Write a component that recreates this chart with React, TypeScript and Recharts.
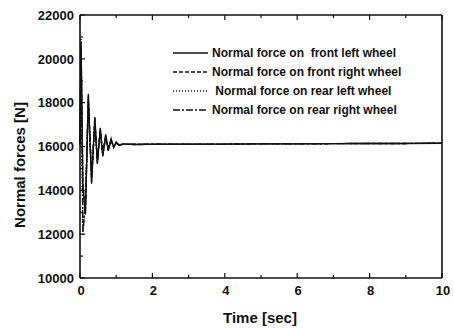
import React from 'react';
import { LineChart, Line, XAxis, YAxis } from 'recharts';

// time samples [sec] (denser during the transient)
const time = [0, 0.03, 0.08, 0.15, 0.23, 0.32, 0.41, 0.48, 0.56, 0.63, 0.71, 0.78, 0.86, 0.93, 1.0, 1.08, 1.2, 1.5, 2, 3, 4, 5, 6, 7, 8, 9, 10];

// normal forces [N]
const frontLeft = [16100, 20500, 14200, 12900, 18400, 14300, 17350, 15200, 16850, 15550, 16550, 15800, 16350, 15950, 16200, 16050, 16120, 16090, 16100, 16110, 16110, 16120, 16120, 16130, 16140, 16140, 16150];
const frontRight = [16100, 20400, 14300, 13000, 18300, 14400, 17300, 15250, 16800, 15600, 16500, 15850, 16300, 15980, 16180, 16060, 16110, 16090, 16100, 16110, 16110, 16120, 16120, 16130, 16140, 16140, 16150];
const rearLeft = [16100, 20900, 12000, 13300, 18100, 14600, 17100, 15350, 16700, 15650, 16450, 15900, 16280, 16000, 16160, 16070, 16110, 16100, 16100, 16110, 16110, 16120, 16120, 16130, 16140, 16140, 16150];
const rearRight = [16100, 20800, 12100, 13400, 18000, 14700, 17050, 15400, 16650, 15700, 16400, 15920, 16250, 16020, 16150, 16080, 16110, 16100, 16100, 16110, 16110, 16120, 16120, 16130, 16140, 16140, 16150];

const xTicks = [0, 1, 2, 3, 4, 5, 6, 7, 8, 9, 10];
const yTicks = [10000, 11000, 12000, 13000, 14000, 15000, 16000, 17000, 18000, 19000, 20000, 21000, 22000];

const seriesNames = [
  'Normal force on  front left wheel',
  'Normal force on front right wheel',
  ' Normal force on rear left wheel',
  'Normal force on rear right wheel',
];
const seriesKeys = ['fl', 'fr', 'rl', 'rr'];
const dashes = ['', '4 2', '1 2', '7 2 2 2'];

const data = time.map((t, i) => ({
  t,
  fl: frontLeft[i],
  fr: frontRight[i],
  rl: rearLeft[i],
  rr: rearRight[i],
}));

const FONT = '"Liberation Sans", Arial, sans-serif';
const INK = '#111';

function BottomTick(props: any) {
  const { x, y, payload } = props;
  const major = payload.value % 2 === 0;
  return (
    <g>
      <line x1={x} x2={x} y1={y} y2={y - (major ? 5 : 3)} stroke={INK} strokeWidth={1.2} />
      {major && (
        <text x={x + 1} y={y + 17} textAnchor="middle" fontFamily={FONT} fontSize={13} fontWeight="bold" fill={INK}>
          {payload.value}
        </text>
      )}
    </g>
  );
}

function TopTick(props: any) {
  const { x, y, payload } = props;
  const major = payload.value % 2 === 0;
  return <line x1={x} x2={x} y1={y} y2={y + (major ? 5 : 3)} stroke={INK} strokeWidth={1.2} />;
}

function LeftTick(props: any) {
  const { x, y, payload } = props;
  const major = payload.value % 2000 === 0;
  return (
    <g>
      <line x1={x} x2={x + (major ? 5 : 3)} y1={y} y2={y} stroke={INK} strokeWidth={1.2} />
      {major && (
        <text x={x - 6} y={y} dy="0.36em" textAnchor="end" fontFamily={FONT} fontSize={13} fontWeight="bold" fill={INK}>
          {payload.value}
        </text>
      )}
    </g>
  );
}

function RightTick(props: any) {
  const { x, y, payload } = props;
  const major = payload.value % 2000 === 0;
  return <line x1={x} x2={x - (major ? 5 : 3)} y1={y} y2={y} stroke={INK} strokeWidth={1.2} />;
}

export default function App() {
  return (
    <div style={{ position: 'absolute', left: 0, top: 0, width: 454, height: 328, background: '#fff' }}>
      <LineChart width={454} height={328} data={data} margin={{ top: 0, right: 0, bottom: 0, left: 0 }}>
        <XAxis
          xAxisId="b"
          dataKey="t"
          type="number"
          domain={[0, 10]}
          ticks={xTicks}
          interval={0}
          height={50}
          tickSize={0}
          tickMargin={0}
          tick={<BottomTick />}
          axisLine={{ stroke: INK, strokeWidth: 1.6 }}
          tickLine={false}
        />
        <XAxis
          xAxisId="t"
          orientation="top"
          dataKey="t"
          type="number"
          domain={[0, 10]}
          ticks={xTicks}
          interval={0}
          height={15}
          tickSize={0}
          tickMargin={0}
          tick={<TopTick />}
          axisLine={{ stroke: INK, strokeWidth: 1.6 }}
          tickLine={false}
        />
        <YAxis
          yAxisId="l"
          type="number"
          domain={[10000, 22000]}
          ticks={yTicks}
          interval={0}
          width={80}
          tickSize={0}
          tickMargin={0}
          tick={<LeftTick />}
          axisLine={{ stroke: INK, strokeWidth: 1.6 }}
          tickLine={false}
        />
        <YAxis
          yAxisId="r"
          orientation="right"
          type="number"
          domain={[10000, 22000]}
          ticks={yTicks}
          interval={0}
          width={12}
          tickSize={0}
          tickMargin={0}
          tick={<RightTick />}
          axisLine={{ stroke: INK, strokeWidth: 1.6 }}
          tickLine={false}
        />
        {seriesKeys.map((k, i) => (
          <Line
            key={k}
            xAxisId="b"
            yAxisId="l"
            dataKey={k}
            name={seriesNames[i]}
            type="linear"
            stroke={INK}
            strokeWidth={1.4}
            strokeDasharray={dashes[i] || undefined}
            dot={false}
            isAnimationActive={false}
          />
        ))}
        <g>
          {seriesNames.map((name, i) => {
            const cy = 53 + i * 19;
            return (
              <g key={name}>
                <line x1={173} x2={208} y1={cy} y2={cy} stroke={INK} strokeWidth={1.6} strokeDasharray={dashes[i] || undefined} />
                <text x={212} y={cy} dy="0.36em" fontFamily={FONT} fontSize={12} fontWeight="bold" fill={INK} style={{ whiteSpace: 'pre' }}>
                  {name}
                </text>
              </g>
            );
          })}
        </g>
        <text x={260} y={323} textAnchor="middle" fontFamily={FONT} fontSize={15} fontWeight="bold" fill={INK}>
          Time [sec]
        </text>
        <text
          x={25}
          y={165}
          textAnchor="middle"
          transform="rotate(-90 25 165)"
          fontFamily={FONT}
          fontSize={15}
          fontWeight="bold"
          fill={INK}
        >
          Normal forces [N]
        </text>
      </LineChart>
    </div>
  );
}
